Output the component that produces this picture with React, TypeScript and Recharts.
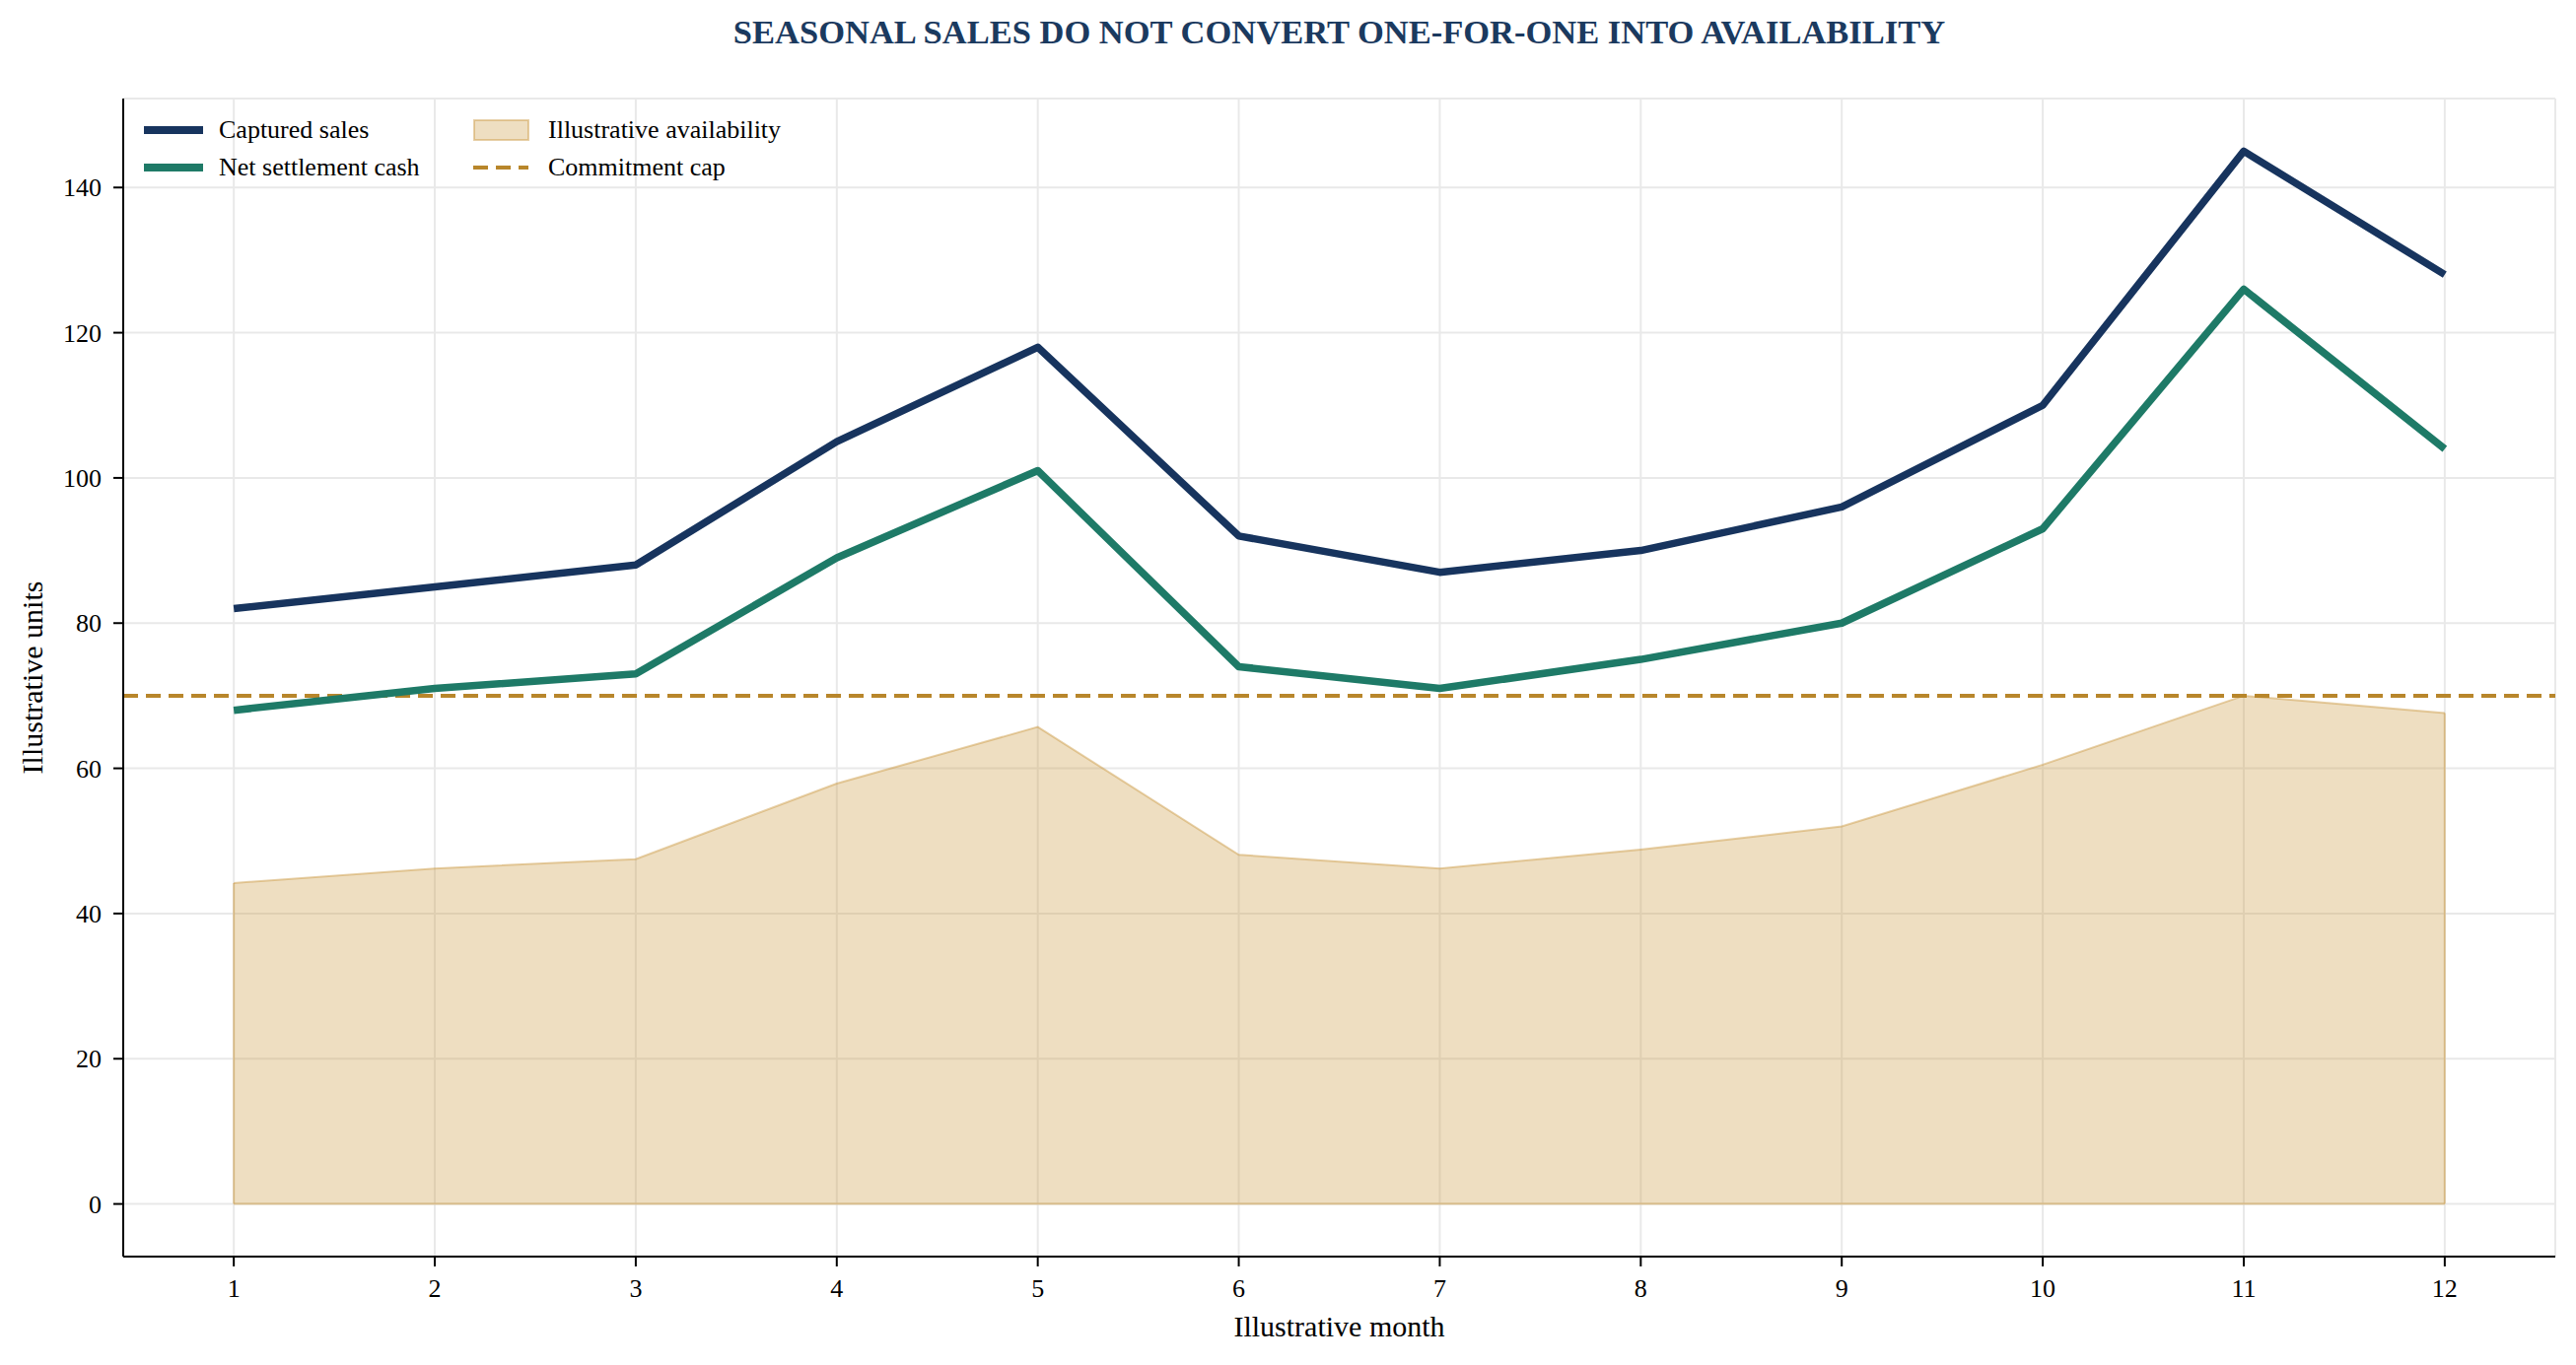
import { Area, CartesianGrid, ComposedChart, Line, ReferenceLine, XAxis, YAxis } from "recharts";

const months = [1, 2, 3, 4, 5, 6, 7, 8, 9, 10, 11, 12];
const capturedSales = [82, 85, 88, 105, 118, 92, 87, 90, 96, 110, 145, 128];
const netSettlementCash = [68, 71, 73, 89, 101, 74, 71, 75, 80, 93, 126, 104];
const availability = [44.2, 46.2, 47.5, 57.9, 65.7, 48.1, 46.2, 48.8, 52.0, 60.5, 70.0, 67.6];
const commitmentCap = 70;
const yTicks = [0, 20, 40, 60, 80, 100, 120, 140];

const FONT = '"Liberation Serif", "Times New Roman", serif';
const NAVY = "#17345e";
const TEAL = "#1e7a67";
const SAND = "#c9973f";
const GOLD = "#b8862b";

const data = months.map((m, i) => ({
  month: m,
  sales: capturedSales[i],
  net: netSettlementCash[i],
  avail: availability[i],
}));

const first = months[0];
const last = months[months.length - 1];

function LegendBox() {
  const item = (swatch: React.ReactNode, label: string) => (
    <div style={{ display: "flex", alignItems: "center", height: 38 }}>
      <svg width={60} height={24} style={{ marginRight: 16 }}>
        {swatch}
      </svg>
      <span style={{ fontSize: 26, fontFamily: FONT, color: "#000" }}>{label}</span>
    </div>
  );
  return (
    <div style={{ position: "absolute", left: 146, top: 113, display: "flex" }}>
      <div style={{ width: 334 }}>
        {item(<line x1={0} x2={60} y1={12} y2={12} stroke={NAVY} strokeWidth={8} />, "Captured sales")}
        {item(<line x1={0} x2={60} y1={12} y2={12} stroke={TEAL} strokeWidth={8} />, "Net settlement cash")}
      </div>
      <div>
        {item(
          <rect x={1} y={2} width={55} height={20} fill={SAND} fillOpacity={0.32} stroke={SAND} strokeOpacity={0.45} strokeWidth={2} />,
          "Illustrative availability"
        )}
        {item(<line x1={0} x2={56} y1={12} y2={12} stroke={GOLD} strokeWidth={4} strokeDasharray="15 8" />, "Commitment cap")}
      </div>
    </div>
  );
}

export default function App() {
  return (
    <div style={{ position: "absolute", left: 0, top: 0, width: 2613, height: 1385, background: "#fff" }}>
      <ComposedChart
        width={2613}
        height={1385}
        data={data}
        margin={{ top: 100, right: 21, bottom: 0, left: 0 }}
        style={{ position: "absolute", left: 0, top: 0 }}
      >
        <CartesianGrid stroke="#e9e9e9" strokeWidth={2} />
        <XAxis
          type="number"
          dataKey="month"
          domain={[0.45, 12.55]}
          ticks={months}
          allowDataOverflow
          height={110}
          tickSize={10}
          tickMargin={13}
          axisLine={{ stroke: "#000", strokeWidth: 2 }}
          tickLine={{ stroke: "#000", strokeWidth: 2 }}
          tick={{ fontSize: 26, fill: "#000", fontFamily: FONT }}
          label={{ value: "Illustrative month", position: "insideBottom", offset: 29, fontSize: 30, fill: "#000", fontFamily: FONT }}
        />
        <YAxis
          type="number"
          domain={[-7.25, 152.25]}
          ticks={yTicks}
          allowDataOverflow
          width={125}
          tickSize={10}
          tickMargin={12}
          axisLine={{ stroke: "#000", strokeWidth: 2 }}
          tickLine={{ stroke: "#000", strokeWidth: 2 }}
          tick={{ fontSize: 26, fill: "#000", fontFamily: FONT }}
          label={{ value: "Illustrative units", angle: -90, position: "insideLeft", offset: 32, fontSize: 30, fill: "#000", fontFamily: FONT, style: { textAnchor: "middle" } }}
        />
        <Area
          type="linear"
          dataKey="avail"
          baseValue={0}
          fill={SAND}
          fillOpacity={0.32}
          stroke={SAND}
          strokeOpacity={0.45}
          strokeWidth={2}
          isAnimationActive={false}
        />
        <ReferenceLine segment={[{ x: first, y: 0 }, { x: first, y: availability[0] }]} stroke={SAND} strokeOpacity={0.45} strokeWidth={2} />
        <ReferenceLine segment={[{ x: last, y: 0 }, { x: last, y: availability[availability.length - 1] }]} stroke={SAND} strokeOpacity={0.45} strokeWidth={2} />
        <ReferenceLine segment={[{ x: first, y: 0 }, { x: last, y: 0 }]} stroke={SAND} strokeOpacity={0.45} strokeWidth={2} />
        <ReferenceLine y={commitmentCap} stroke={GOLD} strokeWidth={4} strokeDasharray="15 8" />
        <Line type="linear" dataKey="sales" stroke={NAVY} strokeWidth={7.5} dot={false} strokeLinejoin="round" isAnimationActive={false} />
        <Line type="linear" dataKey="net" stroke={TEAL} strokeWidth={7.5} dot={false} strokeLinejoin="round" isAnimationActive={false} />
      </ComposedChart>
      <div
        style={{
          position: "absolute",
          left: 125,
          width: 2467,
          top: 13,
          textAlign: "center",
          fontFamily: FONT,
          fontWeight: "bold",
          fontSize: 34.5,
          color: "#1b3a5f",
        }}
      >
        SEASONAL SALES DO NOT CONVERT ONE-FOR-ONE INTO AVAILABILITY
      </div>
      <LegendBox />
    </div>
  );
}
